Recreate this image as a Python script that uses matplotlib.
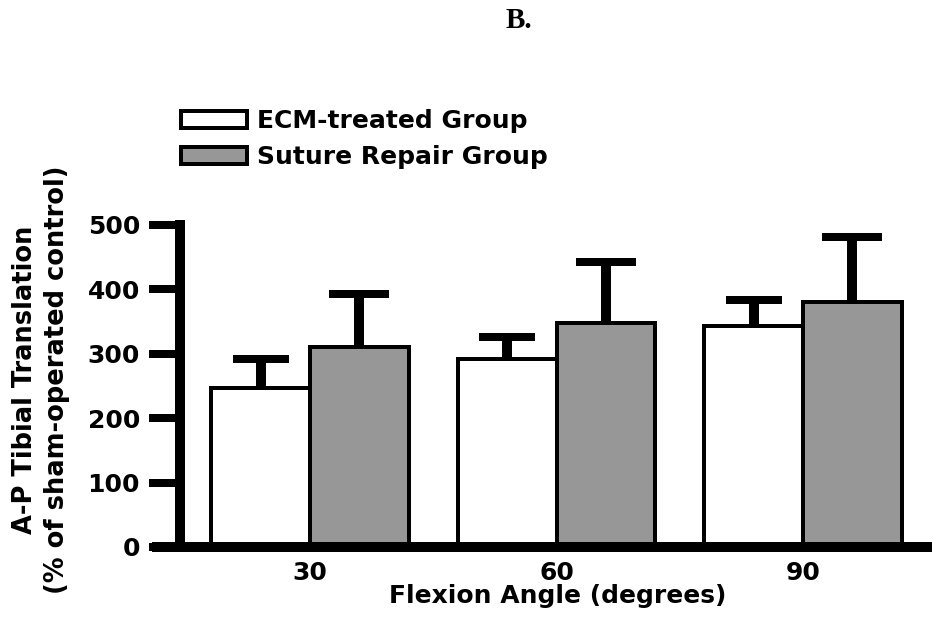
import matplotlib
matplotlib.use("Agg")
import matplotlib.pyplot as plt
import numpy as np

categories = ["30", "60", "90"]
series_names = ["ECM-treated Group", "Suture Repair Group"]
ecm_values = [247, 292, 343]
ecm_err = [45, 34, 41]
suture_values = [311, 348, 381]
suture_err = [82, 95, 100]
y_ticks = [0, 100, 200, 300, 400, 500]

plt.rcParams['font.family'] = ['DejaVu Sans']

W, H = 932, 624
fig = plt.figure(figsize=(W / 100, H / 100), dpi=100)

def px(v):
    return v * 72 / 100.0

# axes placement (pixels)
ax_left, ax_right = 157, 930
y0_px = 547
ymax = 520
scale = 0.644
top_px = y0_px - ymax * scale
ax = fig.add_axes([ax_left / W, (H - y0_px) / H, (ax_right - ax_left) / W, (y0_px - top_px) / H])

c1, spacing = 310, 246.5
ax.set_xlim((ax_left - c1) / spacing, (ax_right - c1) / spacing)
ax.set_ylim(0, ymax)

x = np.arange(len(categories))
w = 0.4
ax.bar(x - w / 2, ecm_values, w, color='white', edgecolor='black', linewidth=px(4), label=series_names[0], zorder=2)
ax.bar(x + w / 2, suture_values, w, color='#979797', edgecolor='black', linewidth=px(4), label=series_names[1], zorder=2)
eb1 = ax.errorbar(x - w / 2, ecm_values, yerr=[np.zeros(3), ecm_err], fmt='none', ecolor='black',
                  elinewidth=px(10), capsize=px(28), capthick=px(8), zorder=1)
eb2 = ax.errorbar(x + w / 2, suture_values, yerr=[np.zeros(3), suture_err], fmt='none', ecolor='black',
                  elinewidth=px(10), capsize=px(30), capthick=px(8), zorder=1)
for eb in (eb1, eb2):
    caps = eb[1]
    caps[0].set_visible(False)

for s in ['top', 'right']:
    ax.spines[s].set_visible(False)
ax.spines['bottom'].set_linewidth(px(10))
ax.spines['left'].set_linewidth(px(10))
ax.spines['left'].set_position(('data', (180 - c1) / spacing))
ax.spines['left'].set_bounds(0, 500)

ax.set_yticks(y_ticks)
ax.set_yticklabels([str(t) for t in y_ticks], fontsize=18, fontweight='bold')
ax.tick_params(axis='y', length=px(31), width=px(8), pad=px(9), direction='out')
ax.set_xticks(x)
ax.set_xticklabels(categories, fontsize=18, fontweight='bold')
ax.tick_params(axis='x', length=0, pad=px(14))

fig.text(558 / W, 1 - 596 / H, "Flexion Angle (degrees)", fontsize=18, fontweight='bold',
         ha='center', va='center')
fig.text(41 / W, 1 - 380 / H, "A-P Tibial Translation\n(% of sham-operated control)", fontsize=18.5,
         fontweight='bold', ha='center', va='center', rotation=90, multialignment='center', linespacing=1.28)
fig.text(519 / W, 1 - 20 / H, "B.", fontsize=21, fontweight='bold', family='Liberation Serif',
         ha='center', va='center')

leg = fig.legend(loc='upper left', bbox_to_anchor=(181 / W, 1 - 109 / H), frameon=False,
                 prop={'weight': 'bold', 'size': 18}, handlelength=2.64, handleheight=0.7,
                 handletextpad=0.4, labelspacing=0.48, borderpad=0, borderaxespad=0)

fig.savefig("out.png", dpi=100)
